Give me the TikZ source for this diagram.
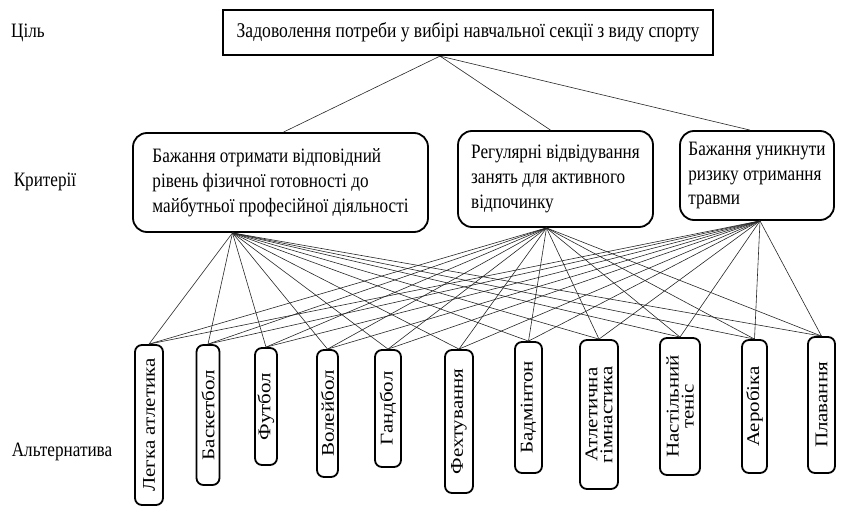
\documentclass[tikz,border=0pt]{standalone}
\usepackage{fontspec}
\setmainfont[FakeStretch=0.84]{Liberation Serif}
\newfontfamily\vertfont[FakeStretch=1.17]{Liberation Serif}

\begin{document}
\begin{tikzpicture}[
  x=1bp, y=1bp,
  goal/.style = {draw, line width=2.2bp, inner sep=2bp,
    minimum width=490bp, minimum height=45bp, font=\fontsize{21}{24}\selectfont},
  crit/.style = {draw, line width=1.8bp, rounded corners=14bp,
    align=left, inner sep=2bp, font=\fontsize{20.5}{25}\selectfont},
  alt/.style = {draw, line width=1.8bp, rounded corners=7bp, rotate=90,
    align=center, inner sep=1bp, font=\vertfont\fontsize{18}{15}\selectfont},
  lvl/.style = {font=\fontsize{20.5}{24}\selectfont},
  link/.style = {line width=0.6bp, black!85}
  ]
  \useasboundingbox (0,0) rectangle (841,-508);
  \node[lvl] (cil) at (28,-33) {Ціль};
  \node[lvl] (kryt) at (45,-182) {Критерії};
  \node[lvl] (alter) at (62,-452) {Альтернатива};

  \node[goal] (goal) at (468,-32.5)
    {Задоволення потреби у вибірі навчальної секції з виду спорту};

  \node[crit, minimum width=295bp, minimum height=99bp] (c1) at (280.5,-182.5)
    {Бажання отримати відповідний\\рівень фізичної готовності до\\майбутньої професійної діяльності};
  \node[crit, minimum width=195bp, minimum height=96bp] (c2) at (555.5,-179)
    {Регулярні відвідування\\занять  для активного\\відпочинку};
  \node[crit, minimum width=154bp, minimum height=89bp] (c3) at (757,-175.5)
    {Бажання уникнути\\ризику отримання\\травми};

  \node[alt, minimum width=160bp, minimum height=28bp] (a1) at (149,-425) {Легка атлетика};
  \node[alt, minimum width=140bp, minimum height=23bp] (a2) at (208,-415) {Баскетбол};
  \node[alt, minimum width=117bp, minimum height=22bp] (a3) at (266,-406.5) {Футбол};
  \node[alt, minimum width=127bp, minimum height=21bp] (a4) at (327.5,-413.5) {Волейбол};
  \node[alt, minimum width=117bp, minimum height=26bp] (a5) at (388,-408.5) {Гандбол};
  \node[alt, minimum width=143bp, minimum height=28bp] (a6) at (459,-421.5) {Фехтування};
  \node[alt, minimum width=131bp, minimum height=27bp] (a7) at (528.5,-407.5) {Бадмінтон};
  \node[alt, minimum width=149bp, minimum height=38bp] (a8) at (599,-414.5) {Атлетична\\гімнастика};
  \node[alt, minimum width=137bp, minimum height=40bp] (a9) at (680,-406.5) {Настільний\\теніс};
  \node[alt, minimum width=133bp, minimum height=25bp] (a10) at (754.5,-406.5) {Аеробіка};
  \node[alt, minimum width=136bp, minimum height=27bp] (a11) at (821.5,-405) {Плавання};

  % points where the lines meet
  \coordinate (gb) at ([xshift=-28bp]goal.south);
  \coordinate (c1t) at ([xshift=3bp]c1.north);
  \coordinate (c2t) at ([xshift=-5bp]c2.north);
  \coordinate (c3t) at ([xshift=-7bp]c3.north);
  \coordinate (c1b) at ([xshift=-48bp]c1.south);
  \coordinate (c2b) at ([xshift=-9bp]c2.south);
  \coordinate (c3b) at ([xshift=3bp]c3.south);

  \foreach \c in {c1t,c2t,c3t}
    \draw[link] (gb) -- (\c);
  \foreach \c in {c1b,c2b,c3b}
    \foreach \a in {1,...,11}
      \draw[link] (\c) -- (a\a.east);
\end{tikzpicture}
\end{document}
